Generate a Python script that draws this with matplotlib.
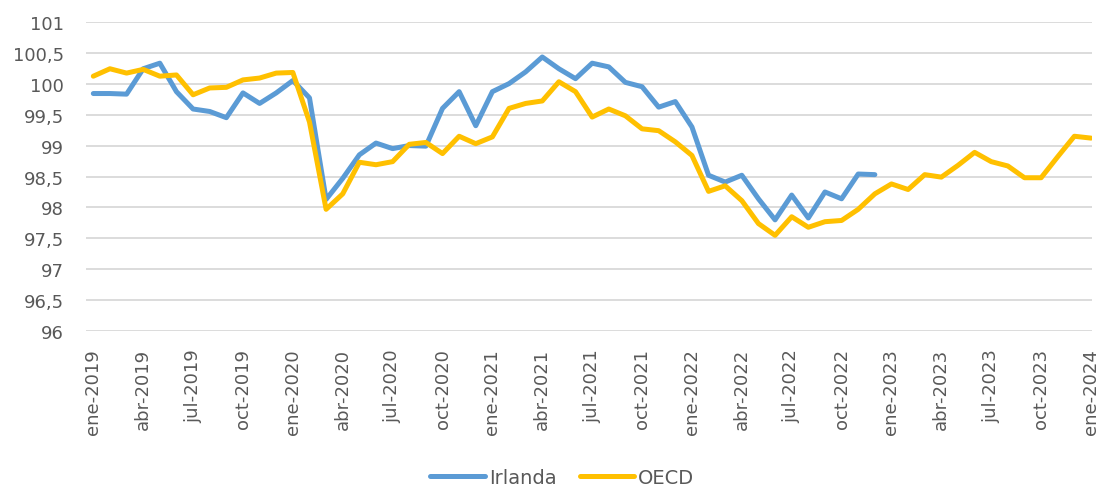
import matplotlib
matplotlib.use("Agg")
import matplotlib.pyplot as plt
import numpy as np

# ==========================================
# DATOS
# ==========================================

MESES = ["ene", "feb", "mar", "abr", "may", "jun",
         "jul", "ago", "sep", "oct", "nov", "dic"]
YEARS = [2019, 2020, 2021, 2022, 2023, 2024]

# etiquetas mensuales ene-2019 .. ene-2024
fechas = [f"{m}-{y}" for y in YEARS for m in MESES][:61]

irlanda = [
    99.84, 99.84, 99.83, 100.24, 100.33, 99.87, 99.59, 99.55, 99.45, 99.85, 99.68, 99.85,
    100.05, 99.77, 98.13, 98.47, 98.85, 99.04, 98.95, 99.00, 98.99, 99.60, 99.87, 99.32,
    99.87, 100.00, 100.19, 100.43, 100.24, 100.08, 100.33, 100.27, 100.02, 99.95, 99.62, 99.71,
    99.30, 98.52, 98.41, 98.52, 98.14, 97.80, 98.20, 97.83, 98.25, 98.14, 98.54, 98.53,
]

oecd = [
    100.12, 100.24, 100.17, 100.23, 100.12, 100.14, 99.82, 99.93, 99.94, 100.06, 100.09, 100.17,
    100.18, 99.38, 97.97, 98.22, 98.73, 98.69, 98.74, 99.02, 99.05, 98.87, 99.15, 99.03,
    99.14, 99.60, 99.68, 99.72, 100.03, 99.87, 99.46, 99.59, 99.48, 99.27, 99.24, 99.06,
    98.84, 98.26, 98.35, 98.11, 97.74, 97.55, 97.85, 97.68, 97.77, 97.79, 97.97, 98.22,
    98.38, 98.29, 98.53, 98.49, 98.68, 98.89, 98.74, 98.67, 98.48, 98.48, 98.82, 99.15,
    99.12,
]

y_ticks = [96, 96.5, 97, 97.5, 98, 98.5, 99, 99.5, 100, 100.5, 101]

# ==========================================
# GRAFICO
# ==========================================

GRIS = "#595959"

fig = plt.figure(figsize=(10.98, 4.89), dpi=100)
ax = fig.add_axes([86 / 1098, 156.7 / 489, 1006 / 1098, 309.6 / 489])

ax.plot(np.arange(len(irlanda)), irlanda, color="#5B9BD5", linewidth=3.6,
        label="Irlanda", solid_capstyle="round", solid_joinstyle="round")
ax.plot(np.arange(len(oecd)), oecd, color="#FFC000", linewidth=3.6,
        label="OECD", solid_capstyle="round", solid_joinstyle="round")

ax.set_ylim(96, 101)
ax.set_xlim(-0.44, 60.06)
ax.set_yticks(y_ticks)
ax.set_yticklabels([f"{v:g}".replace(".", ",") for v in y_ticks])

idx = list(range(0, 61, 3))
ax.set_xticks(idx)
ax.set_xticklabels([fechas[i] for i in idx], rotation=90)

ax.grid(axis="y", color="#D9D9D9", linewidth=1.3)
ax.set_axisbelow(True)
for s in ax.spines.values():
    s.set_visible(False)
ax.tick_params(length=0, labelsize=13, colors=GRIS)
ax.tick_params(axis="x", pad=12)
ax.tick_params(axis="y", pad=16)

leg = fig.legend(loc="center", bbox_to_anchor=(0.512, 0.022), ncol=2,
                 frameon=False, fontsize=14, handlelength=2.8,
                 handletextpad=0.2, columnspacing=1.2)
for t in leg.get_texts():
    t.set_color(GRIS)

fig.savefig("out.png", dpi=100)
